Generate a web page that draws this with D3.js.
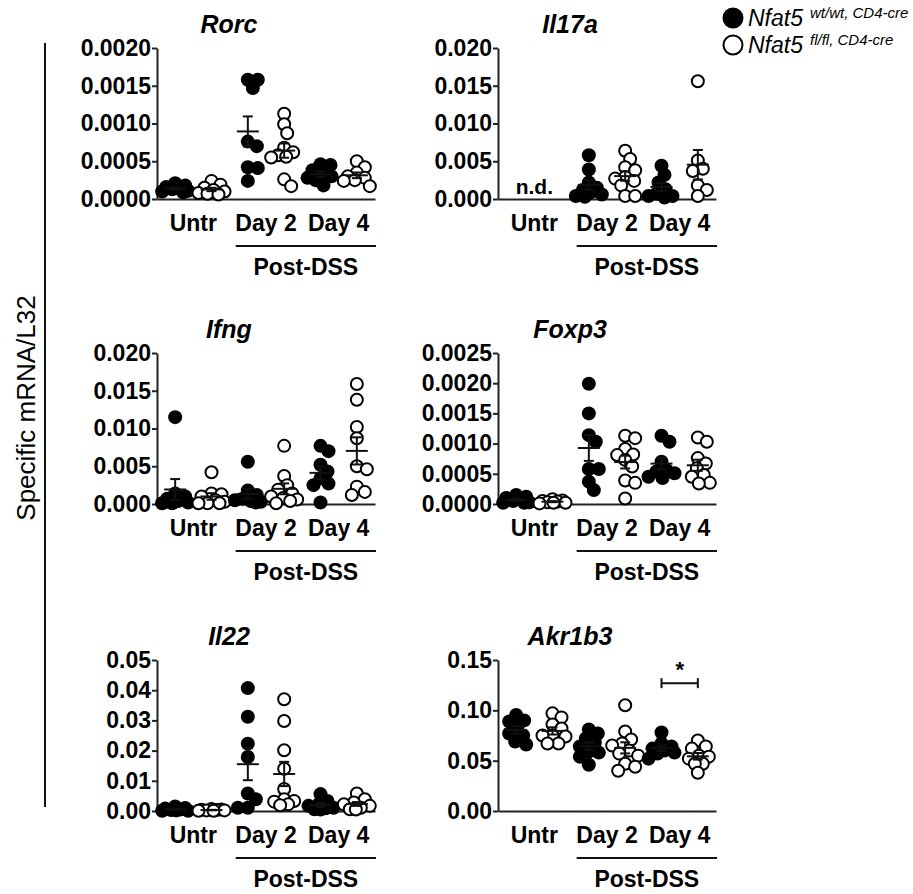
<!DOCTYPE html>
<html>
<head>
<meta charset="utf-8">
<script src="https://cdn.jsdelivr.net/npm/d3@7"></script>
<style>
  body { margin: 0; background: #fff; }
  text { font-family: "Liberation Sans", Arial, Helvetica, sans-serif; fill: #000; }
</style>
</head>
<body>
<div id="chart"></div>
<script>
// six groups per panel: WT / KO for Untr, Day 2, Day 4
const groups = ['wtUntr', 'koUntr', 'wtD2', 'koD2', 'wtD4', 'koD4']
const filled = [true, false, true, false, true, false]
const categories = ['Untr', 'Day 2', 'Day 4']
const genes = ['Rorc', 'Il17a', 'Ifng', 'Foxp3', 'Il22', 'Akr1b3']
const yMaxes = [0.002, 0.02, 0.02, 0.0025, 0.05, 0.15]
const yStepSizes = [0.0005, 0.005, 0.005, 0.0005, 0.01, 0.05]
const yDecimals = [4, 3, 3, 4, 2, 2]
const legendLabels = [['Nfat5', 'wt/wt, CD4-cre'], ['Nfat5', 'fl/fl, CD4-cre']]

const rorc = [
  [0.00021, 0.00018, 0.00016, 0.00014, 0.00013, 0.00011, 0.0001, 0.00009],
  [0.00024, 0.00019, 0.00015, 0.00012, 0.0001, 0.00008, 0.00007, 0.00006],
  [0.00158, 0.00158, 0.00147, 0.00076, 0.0007, 0.00042, 0.00041, 0.00024],
  [0.00113, 0.00099, 0.00087, 0.00068, 0.00062, 0.00058, 0.00056, 0.00055, 0.00026, 0.00017],
  [0.00046, 0.00045, 0.00038, 0.00033, 0.0003, 0.00028, 0.00025, 0.00018],
  [0.0005, 0.00042, 0.00035, 0.0003, 0.00028, 0.00025, 0.00024, 0.00017]
]
const il17a = [
  [],
  [],
  [0.0058, 0.0039, 0.0022, 0.0015, 0.0012, 0.0009, 0.0006, 0.0004, 0.0003],
  [0.0064, 0.0053, 0.0042, 0.0038, 0.0029, 0.0027, 0.0024, 0.0018, 0.0004, 0.0004],
  [0.0044, 0.0032, 0.0022, 0.0013, 0.0007, 0.0004, 0.0004, 0.0002],
  [0.0156, 0.0051, 0.004, 0.0037, 0.0018, 0.0012, 0.0004]
]
const ifng = [
  [0.0115, 0.0014, 0.001, 0.0007, 0.0004, 0.0002, 0.0001, 0.0001],
  [0.0042, 0.0014, 0.0013, 0.001, 0.0005, 0.0003, 0.0001, 0.0001, 0.0001],
  [0.0056, 0.0018, 0.0012, 0.0007, 0.0005, 0.0004, 0.0003, 0.0002],
  [0.0077, 0.0037, 0.0025, 0.0019, 0.0014, 0.001, 0.0008, 0.0006, 0.0004, 0.0001],
  [0.0077, 0.007, 0.0052, 0.0043, 0.0034, 0.0027, 0.0025, 0.0002],
  [0.0159, 0.0138, 0.0102, 0.0087, 0.005, 0.0046, 0.0023, 0.0016, 0.0012]
]
const foxp3 = [
  [0.00015, 0.00012, 0.0001, 0.00008, 0.00005, 0.00003, 0.00002, 0.00002],
  [0.00008, 0.00006, 0.00005, 0.00004, 0.00003, 0.00002, 0.00002, 0.00001],
  [0.00199, 0.0015, 0.00114, 0.00103, 0.00058, 0.00058, 0.00037, 0.00023],
  [0.00113, 0.00109, 0.00091, 0.00082, 0.00081, 0.00073, 0.00062, 0.00039, 0.00035, 0.00009],
  [0.00113, 0.00103, 0.0007, 0.00056, 0.00054, 0.00051, 0.00045, 0.00043],
  [0.0011, 0.00103, 0.00076, 0.00067, 0.00059, 0.00048, 0.00045, 0.00035, 0.00034]
]
const il22 = [
  [0.0015, 0.001, 0.0008, 0.0005, 0.0003, 0.0002, 0.0001, 0.0001],
  [0.0007, 0.0005, 0.0004, 0.0003, 0.0002, 0.0002, 0.0001, 0.0001],
  [0.0407, 0.0312, 0.0223, 0.0179, 0.0058, 0.0039, 0.0011, 0.0011],
  [0.037, 0.0298, 0.0201, 0.014, 0.0073, 0.0039, 0.0033, 0.0031, 0.0022, 0.0019],
  [0.0056, 0.0033, 0.0022, 0.0017, 0.0011, 0.0009, 0.0006, 0.0005],
  [0.0058, 0.0039, 0.0028, 0.0022, 0.0017, 0.0011, 0.0006, 0.0005]
]
const akr1b3 = [
  [0.0954, 0.09, 0.089, 0.083, 0.077, 0.075, 0.069, 0.066],
  [0.097, 0.093, 0.086, 0.082, 0.075, 0.075, 0.074, 0.067, 0.067],
  [0.081, 0.077, 0.072, 0.068, 0.064, 0.059, 0.058, 0.054, 0.046],
  [0.105, 0.079, 0.071, 0.065, 0.067, 0.06, 0.057, 0.055, 0.047, 0.044, 0.04],
  [0.078, 0.067, 0.064, 0.062, 0.06, 0.058, 0.057, 0.052],
  [0.07, 0.064, 0.062, 0.055, 0.054, 0.052, 0.047, 0.047, 0.038]
]
const geneData = [rorc, il17a, ifng, foxp3, il22, akr1b3]
const notDetected = [null, 'n.d.', null, null, null, null]
// significance bracket: [gene index, from group, to group, y value, label]
const significance = [[5, 'wtD4', 'koD4', 0.127, '*']]

const width = 913, height = 894
const colX = [157, 498]
const rowTop = [48, 353, 660]
const plotW = 218, plotH = 151
const r = 7

const svg = d3.select('#chart').append('svg')
.attr('width', width)
.attr('height', height)

svg.append('rect').attr('width', width).attr('height', height).attr('fill', '#fff')

// shared y label with its bar
svg.append('line')
.attr('x1', 45).attr('x2', 45).attr('y1', 43).attr('y2', 807)
.attr('stroke', '#111').attr('stroke-width', 2)

svg.append('text')
.attr('transform', 'translate(35,408) rotate(-90)')
.attr('text-anchor', 'middle')
.style('font-size', '26px')
.text('Specific mRNA/L32')

// legend
const legend = svg.append('g').attr('transform', 'translate(733,18)')
legendLabels.forEach((l, i) => {
  const g = legend.append('g').attr('transform', `translate(0,${i * 27})`)
  g.append('circle')
  .attr('r', i === 0 ? 10.5 : 9.5)
  .attr('fill', i === 0 ? '#000' : '#fff')
  .attr('stroke', '#000')
  .attr('stroke-width', i === 0 ? 0 : 2)
  const t = g.append('text').attr('x', 15).attr('y', 8).style('font-style', 'italic')
  t.append('tspan').style('font-size', '23px').text(l[0])
  t.append('tspan').attr('dx', 7).attr('dy', -8).style('font-size', '15px').text(l[1])
})

// simple beeswarm, kept narrow so circles overlap like the original scatter
const dodge = (values, y, cx) => {
  const placed = []
  const minD = 9.5
  const sorted = values.map(v => v).sort((a, b) => b - a)
  sorted.forEach(v => {
    const py = y(v)
    let best = null, bestScore = -1
    for (let k = 0; k <= 26; k++) {
      const off = (k % 2 ? 1 : -1) * Math.ceil(k / 2)
      const px = cx + off
      const dmin = placed.length ? d3.min(placed, p => Math.hypot(p.x - px, p.y - py)) : Infinity
      if (dmin >= minD) { best = px; break }
      if (dmin > bestScore) { bestScore = dmin; best = px }
    }
    placed.push({x: best, y: py, v})
  })
  return placed
}

genes.forEach((gene, gi) => {
  const x0 = colX[gi % 2]
  const top = rowTop[Math.floor(gi / 2)]
  const bottom = top + plotH
  const data = geneData[gi]

  const y = d3.scaleLinear().domain([0, yMaxes[gi]]).range([bottom, top])
  const x = d3.scaleBand().domain(groups).range([x0, x0 + plotW])
  const xCat = d3.scaleBand().domain(categories).range([x0, x0 + plotW])

  const panel = svg.append('g').attr('class', 'panel ' + gene)

  panel.append('text')
  .attr('x', x0 + 72)
  .attr('y', top - 15)
  .attr('text-anchor', 'middle')
  .style('font-size', '25px')
  .style('font-weight', 'bold')
  .style('font-style', 'italic')
  .text(gene)

  const ticks = d3.range(0, yMaxes[gi] + yStepSizes[gi] / 2, yStepSizes[gi])

  const yAxis = panel.append('g')
  .attr('transform', `translate(${x0},0)`)
  .call(d3.axisLeft(y).tickValues(ticks).tickFormat(d3.format('.' + yDecimals[gi] + 'f')).tickSize(5).tickSizeOuter(0).tickPadding(1))

  yAxis.selectAll('path, line').attr('stroke', '#222').attr('stroke-width', 2)
  yAxis.selectAll('text').style('font-size', '23px').style('font-weight', 'bold').attr('fill', '#000')

  const xAxis = panel.append('g')
  .attr('transform', `translate(0,${bottom})`)
  .call(d3.axisBottom(xCat).tickSize(0).tickSizeOuter(0).tickPadding(16))

  xAxis.select('.domain').attr('stroke', '#222').attr('stroke-width', 2)
  xAxis.selectAll('text').style('font-size', '23px').style('font-weight', 'bold').attr('fill', '#000')

  // Post-DSS bracket
  const dssX1 = x('wtD2') + 6, dssX2 = x0 + plotW + 1
  panel.append('line')
  .attr('x1', dssX1).attr('x2', dssX2)
  .attr('y1', bottom + 47).attr('y2', bottom + 47)
  .attr('stroke', '#111').attr('stroke-width', 2)

  panel.append('text')
  .attr('x', (dssX1 + dssX2) / 2)
  .attr('y', bottom + 76)
  .attr('text-anchor', 'middle')
  .style('font-size', '23px')
  .style('font-weight', 'bold')
  .text('Post-DSS')

  if (notDetected[gi]) {
    panel.append('text')
    .attr('x', (x('wtUntr') + x('koUntr') + x.bandwidth()) / 2)
    .attr('y', bottom - 5)
    .attr('text-anchor', 'middle')
    .style('font-size', '21px')
    .style('font-weight', 'bold')
    .text(notDetected[gi])
  }

  groups.forEach((grp, k) => {
    const vals = data[k]
    if (!vals.length) return
    const cx = x(grp) + x.bandwidth() / 2
    const pts = dodge(vals, y, cx)

    panel.append('g')
    .selectAll('circle')
    .data(pts)
    .enter()
    .append('circle')
    .attr('cx', d => d.x)
    .attr('cy', d => d.y)
    .attr('r', filled[k] ? r : r - 1)
    .attr('fill', filled[k] ? '#000' : '#fff')
    .attr('stroke', '#000')
    .attr('stroke-width', filled[k] ? 0 : 2)

    const mean = d3.mean(vals)
    const sem = d3.deviation(vals) / Math.sqrt(vals.length)
    const eb = panel.append('g').attr('stroke', '#111').attr('stroke-width', 2)
    eb.append('line').attr('x1', cx - 11).attr('x2', cx + 11).attr('y1', y(mean)).attr('y2', y(mean))
    eb.append('line').attr('x1', cx).attr('x2', cx).attr('y1', y(mean - sem)).attr('y2', y(mean + sem))
    eb.append('line').attr('x1', cx - 5).attr('x2', cx + 5).attr('y1', y(mean + sem)).attr('y2', y(mean + sem))
    eb.append('line').attr('x1', cx - 5).attr('x2', cx + 5).attr('y1', y(mean - sem)).attr('y2', y(mean - sem))
  })

  significance.filter(s => s[0] === gi).forEach(s => {
    const a = x(s[1]) + x.bandwidth() / 2, b = x(s[2]) + x.bandwidth() / 2
    const sy = y(s[3])
    const g = panel.append('g').attr('stroke', '#111').attr('stroke-width', 2)
    g.append('line').attr('x1', a).attr('x2', b).attr('y1', sy).attr('y2', sy)
    g.append('line').attr('x1', a).attr('x2', a).attr('y1', sy - 5).attr('y2', sy + 5)
    g.append('line').attr('x1', b).attr('x2', b).attr('y1', sy - 5).attr('y2', sy + 5)
    panel.append('text')
    .attr('x', (a + b) / 2)
    .attr('y', sy - 6)
    .attr('text-anchor', 'middle')
    .style('font-size', '22px')
    .style('font-weight', 'bold')
    .text(s[4])
  })
})
</script>
</body>
</html>
